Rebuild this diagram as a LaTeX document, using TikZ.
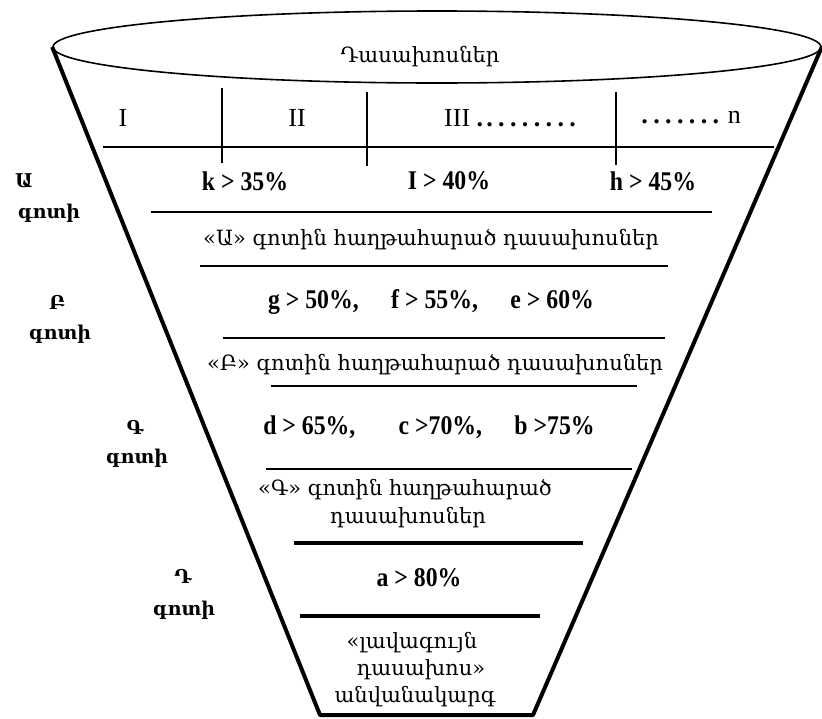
\documentclass[tikz,border=0pt]{standalone}
\usepackage{fontspec}
\setmainfont{Liberation Serif}
\newfontfamily\armfont{DejaVu Serif}
\newfontfamily\critfont[FakeStretch=0.88]{Liberation Serif Bold}
\usetikzlibrary{shapes.geometric}
\newcommand\dotrun[1]{{\bfseries\spaceskip=3.2pt\relax #1}}
\begin{document}
\begin{tikzpicture}[x=1pt,y=-1pt,
  funnel/.style={line width=4pt, line join=round},
  sepline/.style={line width=2.6pt},
  thinline/.style={line width=1.5pt},
  armtxt/.style={font=\armfont\fontsize{21}{24}\selectfont, inner sep=0pt},
  zonetxt/.style={font=\armfont\bfseries\fontsize{19}{22}\selectfont, inner sep=0pt},
  crit/.style={font=\critfont\fontsize{27}{30}\selectfont, inner sep=0pt},
  roman/.style={font=\fontsize{26}{30}\selectfont, inner sep=0pt}]
\useasboundingbox (0,0) rectangle (822,718);

% cup top
\node[ellipse, draw, line width=1.6pt, minimum width=768pt, minimum height=72pt, inner sep=0pt] (cup) at (437,47) {};
\node[armtxt] (title) at (420,57) {Դասախոսներ};

% funnel
\coordinate (bl) at (320,715);
\coordinate (br) at (533,715);
\draw[funnel] (cup.west) -- (bl) -- (br) -- (cup.east);

% header row
\node[roman] (c1) at (123,118) {I};
\node[roman] (c2) at (297,118) {II};
\node[roman, anchor=west] (c3) at (444,118) {III \dotrun{. . . . . . . . .}};
\node[roman, anchor=east] (c4) at (741,118) {\dotrun{. . . . . . .} n};

\coordinate (h0a) at (103,147); \coordinate (h0b) at (774,147);
\draw[thinline] (h0a) -- (h0b);
\coordinate (v1a) at (222,88);  \coordinate (v1b) at (222,163);
\coordinate (v2a) at (367,92);  \coordinate (v2b) at (367,166);
\coordinate (v3a) at (616,92);  \coordinate (v3b) at (616,165);
\draw[thinline] (v1a) -- (v1b);
\draw[thinline] (v2a) -- (v2b);
\draw[thinline] (v3a) -- (v3b);

% zone A
\node[zonetxt] (za1) at (24,181) {Ա};
\node[zonetxt] (za2) at (49,213) {գոտի};
\node[crit] (k) at (245,181) {k > 35\%};
\node[crit] (l) at (449,181) {I > 40\%};
\node[crit] (h) at (653,181) {h > 45\%};
\coordinate (h1a) at (151,212); \coordinate (h1b) at (712,212);
\draw[sepline] (h1a) -- (h1b);
\node[armtxt] (pa) at (431,240) {«Ա» գոտին հաղթահարած դասախոսներ};
\coordinate (h2a) at (200,266); \coordinate (h2b) at (668,266);
\draw[sepline] (h2a) -- (h2b);

% zone B
\node[zonetxt] (zb1) at (57,302) {Բ};
\node[zonetxt] (zb2) at (60,334) {գոտի};
\node[crit] (gfe) at (431,302) {g > 50\%,\hspace{1.2em}f > 55\%,\hspace{1.2em}e > 60\%};
\coordinate (h3a) at (223,338); \coordinate (h3b) at (665,338);
\draw[sepline] (h3a) -- (h3b);
\node[armtxt] (pb) at (435,365) {«Բ» գոտին հաղթահարած դասախոսներ};
\coordinate (h4a) at (271,386); \coordinate (h4b) at (637,386);
\draw[sepline] (h4a) -- (h4b);

% zone C
\node[zonetxt] (zc1) at (135,427) {Գ};
\node[zonetxt] (zc2) at (137,458) {գոտի};
\node[crit] (dcb) at (429,427) {d > 65\%,\hspace{1.6em}c >70\%,\hspace{1.2em}b >75\%};
\coordinate (h5a) at (266,469); \coordinate (h5b) at (632,469);
\draw[sepline] (h5a) -- (h5b);
\node[armtxt] (pc1) at (405,490) {«Գ» գոտին հաղթահարած};
\node[armtxt] (pc2) at (408,518) {դասախոսներ};
\coordinate (h6a) at (294,543); \coordinate (h6b) at (583,543);
\draw[sepline, line width=3.4pt] (h6a) -- (h6b);

% zone D
\node[zonetxt] (zd1) at (183,576) {Դ};
\node[zonetxt] (zd2) at (184,610) {գոտի};
\node[crit] (a) at (419,578) {a > 80\%};
\coordinate (h7a) at (300,616); \coordinate (h7b) at (540,616);
\draw[sepline, line width=3.4pt] (h7a) -- (h7b);
\node[armtxt] (best1) at (412,643) {«լավագույն};
\node[armtxt] (best2) at (421,670) {դասախոս»};
\node[armtxt] (best3) at (415,697) {անվանակարգ};
\end{tikzpicture}
\end{document}
